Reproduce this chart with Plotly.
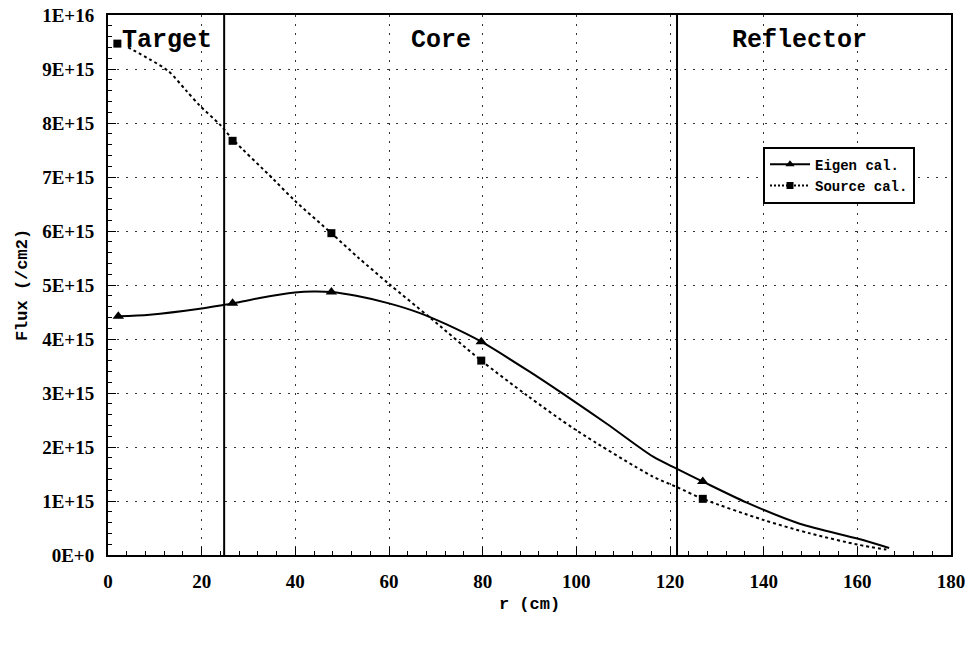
import plotly.graph_objects as go

# ---- data (flux in units of 1E15 /cm2) ----
eigen_curve_r = [2.2, 8.9, 19.6, 24.6, 26.6, 32.4, 39.9, 43.8, 47.7, 53.0, 60.0, 66.6, 72.3,
                 79.7, 90.1, 98.6, 106.5, 116.4, 121.4, 127.0, 136.4, 147.7, 160.2, 166.8]
eigen_curve_flux = [4.42, 4.45, 4.56, 4.63, 4.66, 4.76, 4.86, 4.88, 4.87, 4.80, 4.66, 4.48, 4.27,
                    3.95, 3.39, 2.90, 2.43, 1.82, 1.60, 1.36, 0.97, 0.58, 0.30, 0.13]
eigen_mark_r = [2.2, 26.6, 47.7, 79.7, 127.0]
eigen_mark_flux = [4.42, 4.66, 4.87, 3.95, 1.36]

source_curve_r = [4.3, 8.9, 12.9, 16.7, 19.6, 23.9, 26.6, 35.3, 39.9, 47.7, 53.4, 60.0, 68.7,
                  79.7, 89.4, 100.0, 116.4, 121.4, 127.0, 139.9, 149.9, 160.2, 166.2]
source_curve_flux = [9.40, 9.18, 8.96, 8.60, 8.32, 7.97, 7.70, 6.96, 6.56, 5.96, 5.51, 5.02, 4.40,
                     3.60, 2.96, 2.31, 1.45, 1.26, 1.04, 0.65, 0.40, 0.19, 0.10]
source_mark_r = [2.0, 26.6, 47.7, 79.7, 127.0]
source_mark_flux = [9.47, 7.67, 5.96, 3.60, 1.04]

region_bounds = [24.8, 121.5]
region_names = ["Target", "Core", "Reflector"]
region_label_r = [12.7, 71.0, 147.6]
region_label_flux = [9.53, 9.53, 9.53]

x_ticks = [0, 20, 40, 60, 80, 100, 120, 140, 160, 180]
y_tickvals = [0, 1, 2, 3, 4, 5, 6, 7, 8, 9, 10]
y_ticktext = ["0E+0", "1E+15", "2E+15", "3E+15", "4E+15", "5E+15", "6E+15", "7E+15",
              "8E+15", "9E+15", "1E+16"]

MONO = "Liberation Mono"
SERIF = "Liberation Serif"

fig = go.Figure()

# curves
fig.add_trace(go.Scatter(x=eigen_curve_r, y=eigen_curve_flux, mode="lines",
                         line=dict(color="black", width=2, shape="spline", smoothing=0.8),
                         showlegend=False, hoverinfo="skip"))
fig.add_trace(go.Scatter(x=source_curve_r, y=source_curve_flux, mode="lines",
                         line=dict(color="black", width=2, dash="3px,3px", shape="spline", smoothing=0.8),
                         showlegend=False, hoverinfo="skip"))
# markers
fig.add_trace(go.Scatter(x=eigen_mark_r, y=eigen_mark_flux, mode="markers",
                         marker=dict(symbol="triangle-up", size=10, color="black"),
                         showlegend=False))
fig.add_trace(go.Scatter(x=source_mark_r, y=source_mark_flux, mode="markers",
                         marker=dict(symbol="square", size=8, color="black"),
                         showlegend=False))
# legend entries
fig.add_trace(go.Scatter(x=[None], y=[None], mode="lines+markers", name="Eigen cal.",
                         line=dict(color="black", width=2),
                         marker=dict(symbol="triangle-up", size=8, color="black")))
fig.add_trace(go.Scatter(x=[None], y=[None], mode="lines+markers", name="Source cal.",
                         line=dict(color="black", width=2, dash="2px,2px"),
                         marker=dict(symbol="square", size=7, color="black")))

# region boundaries
for b in region_bounds:
    fig.add_shape(type="line", xref="x", yref="paper", x0=b, x1=b, y0=0, y1=1,
                  line=dict(color="black", width=2))

for name, rx, ry in zip(region_names, region_label_r, region_label_flux):
    fig.add_annotation(x=rx, y=ry, text=name, showarrow=False,
                       font=dict(family=MONO, size=25, color="black", weight="bold"),
                       bgcolor="rgba(255,255,255,0)")

axis_common = dict(
    showline=True, linecolor="black", linewidth=2, mirror=True,
    showgrid=True, gridcolor="#333", gridwidth=1, griddash="2px,7px",
    zeroline=False, ticks="inside", ticklen=8, tickwidth=1, tickcolor="black",
    tickfont=dict(family=SERIF, size=19, color="black", weight="bold"),
    automargin=False,
)

fig.update_xaxes(range=[0, 180], tickvals=x_ticks,
                 minor=dict(dtick=4, ticks="inside", ticklen=4, tickcolor="black", showgrid=False),
                 title=dict(text="r (cm)", font=dict(family=MONO, size=17, color="black", weight="bold"),
                            standoff=6),
                 ticklabelstandoff=8,
                 **axis_common)
fig.update_yaxes(range=[0, 10], tickvals=y_tickvals, ticktext=y_ticktext,
                 minor=dict(dtick=0.2, ticks="inside", ticklen=4, tickcolor="black", showgrid=False),
                 title=dict(text="Flux (/cm2)", font=dict(family=MONO, size=17, color="black", weight="bold"),
                            standoff=10),
                 ticklabelstandoff=8,
                 **axis_common)

fig.update_layout(
    width=974, height=645,
    margin=dict(l=108, r=23, t=15, b=90),
    paper_bgcolor="white", plot_bgcolor="white",
    legend=dict(x=0.777, y=0.756, xanchor="left", yanchor="top",
                bgcolor="white", bordercolor="black", borderwidth=2,
                font=dict(family=MONO, size=14, color="black", weight="bold"),
                tracegroupgap=0, itemwidth=40),
)

# remove the default 8px page margin so the figure fills the window exactly
fig.write_html("out.html", config={"displayModeBar": False},
               post_script="document.body.style.margin='0px';")
